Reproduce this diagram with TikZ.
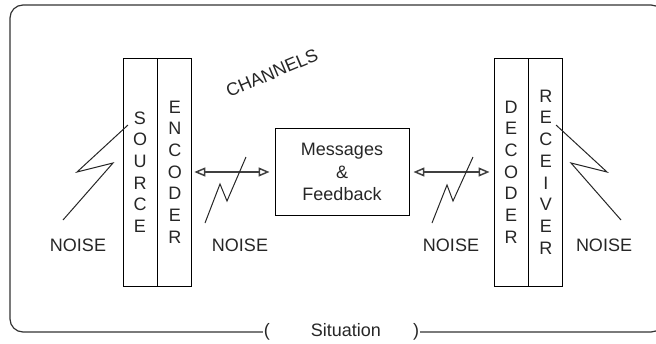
\documentclass[tikz,border=0pt]{standalone}
\usepackage{fontspec}
\setmainfont{Liberation Sans}
\usepackage{tikz}
\usetikzlibrary{arrows.meta,positioning}

\begin{document}
\begin{tikzpicture}[x=1pt,y=-1pt,>={Triangle[open,length=11pt,width=9pt]},
                    node distance=0pt, font=\fontsize{18}{21.7}\selectfont]
  \tikzstyle{bar}=[draw,line width=0.9pt,minimum width=34pt,minimum height=228pt,inner sep=0pt,align=center,text=black!85]
  \tikzstyle{noise}=[draw=black!85,line width=1pt]
  \tikzstyle{label}=[text=black!85,anchor=base]
  \useasboundingbox (0,0) rectangle (656,343);

  % situation frame
  \node (sit) at (341.5,332) [inner sep=1pt,text=black!85] {(\hspace{41pt}Situation\hspace{32pt})};
  \draw[black!80,line width=1.2pt,rounded corners=13pt]
    (sit.west) -- (10,332) -- (10,5) -- (664,5) -- (664,332) -- (sit.east);

  \node[bar] (src) at (140,172) {S\\O\\U\\R\\C\\E};
  \node[bar] (enc) [right=0pt of src] {E\\N\\C\\O\\D\\E\\R};
  \node[bar] (dec) at (511,172) {D\\E\\C\\O\\D\\E\\R};
  \node[bar] (rec) [right=0pt of dec] {R\\E\\C\\E\\I\\V\\E\\R};
  \node[draw,line width=0.9pt,minimum width=134pt,minimum height=87pt,align=center,text=black!85]
       (msg) at (342,172) {Messages\\[0.8pt]\&\\[0.8pt]Feedback};

  \node[text=black!85,rotate=23] (chan) at (272,73) {CHANNELS};

  \path[<->,draw=black!75,line width=1.5pt]
        (enc) edge [shorten <=2pt, shorten >=5pt] (msg)
        (msg) edge [shorten <=4pt, shorten >=4pt] (dec);

  % noise
  \node[label] (n1) at (78,251)  {NOISE};
  \node[label] (n2) at (240,251) {NOISE};
  \node[label] (n3) at (451,251) {NOISE};
  \node[label] (n4) at (604,251) {NOISE};
  \draw[noise] (63,220) -- (113,163) -- (77,172) -- (128,125);
  \draw[noise] (205,223) -- (220,184) -- (227,201) -- (246,157);
  \draw[noise] (432,223) -- (447,185) -- (453,201) -- (473,157);
  \draw[noise] (621,220) -- (571,163) -- (607,172) -- (556,125);
\end{tikzpicture}
\end{document}
